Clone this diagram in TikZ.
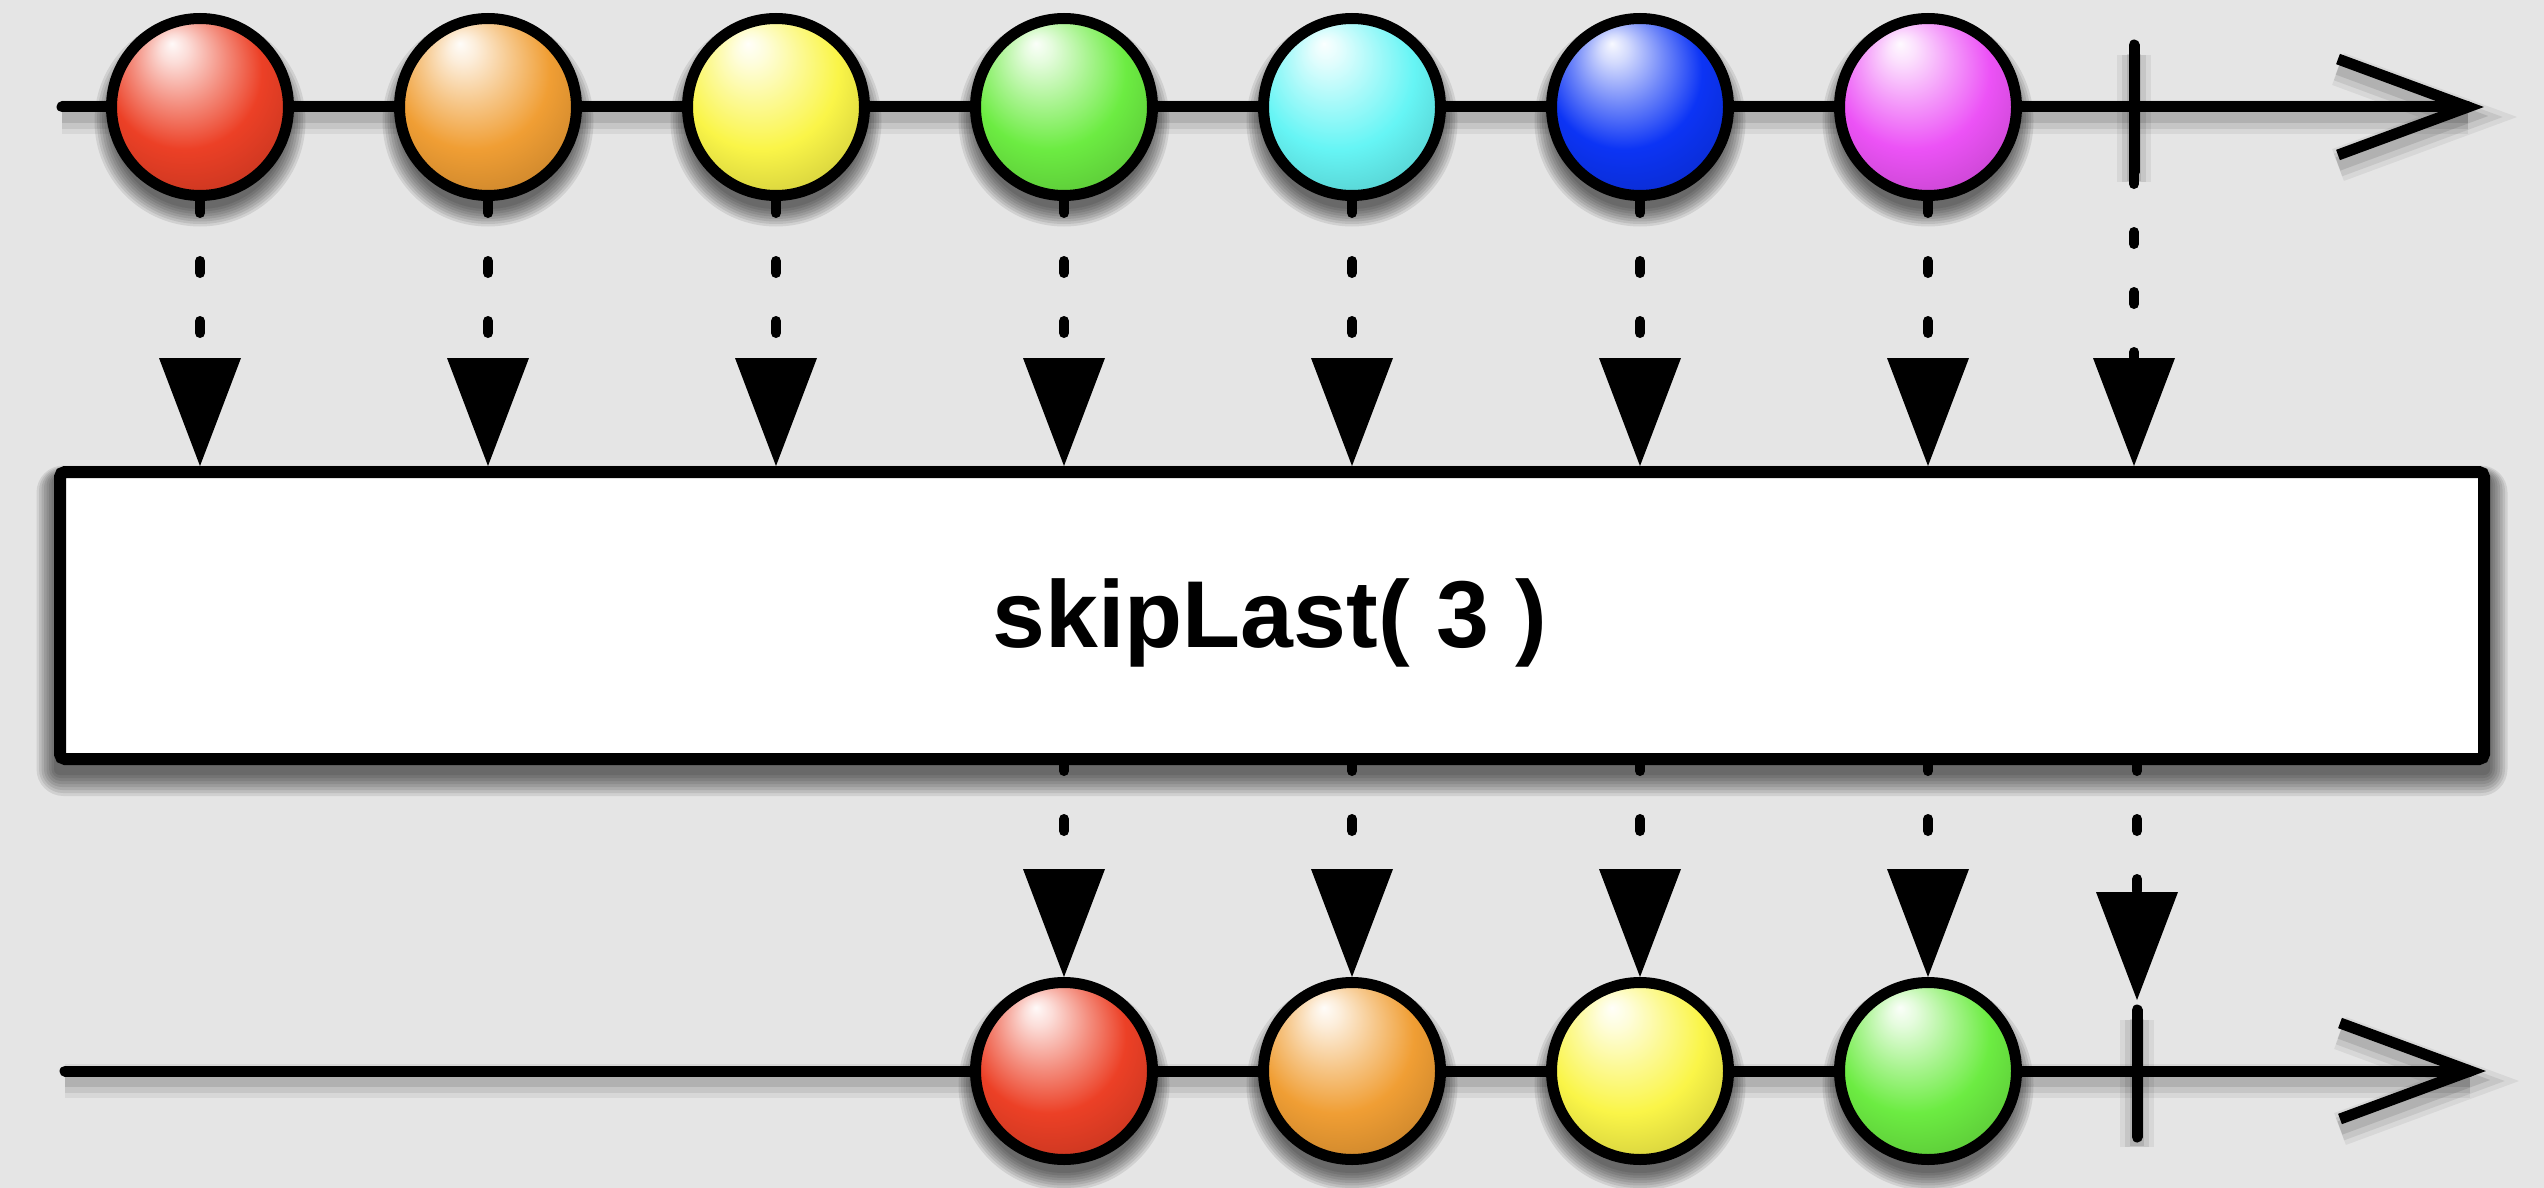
\documentclass[tikz,border=0pt]{standalone}
\usepackage{fontspec}
\setmainfont{Liberation Sans}
\usetikzlibrary{arrows.meta}
\pgfdeclarelayer{bglayer}
\pgfdeclarelayer{shadowlayer}
\pgfsetlayers{bglayer,shadowlayer,main}
\definecolor{bgc}{RGB}{229,229,229}
\definecolor{cred}{RGB}{236,64,38}
\definecolor{corange}{RGB}{240,158,52}
\definecolor{cyellow}{RGB}{250,245,72}
\definecolor{cgreen}{RGB}{108,236,66}
\definecolor{ccyan}{RGB}{102,245,245}
\definecolor{cblue}{RGB}{12,52,245}
\definecolor{cmagenta}{RGB}{236,82,246}
\colorlet{rxball}{red}
\pgfdeclareradialshading[rxball]{rxshade}{\pgfpoint{-8bp}{18bp}}{%
  color(0bp)=(rxball!3!white); color(4bp)=(rxball!18!white);
  color(13bp)=(rxball!60!white); color(22bp)=(rxball);
  color(31bp)=(rxball!88!black); color(43bp)=(rxball!52!black);
  color(50bp)=(rxball!45!black)}
\tikzset{
  mcol/.code={\colorlet{rxball}{#1}},
  mball/.style={circle, draw=black, line width=11pt, minimum size=177pt,
    inner sep=0pt, shade, shading=rxshade, mcol=#1},
  softsh/.style={fill=black, fill opacity=0.09},
  lshad/.style={
    preaction={draw=black, draw opacity=0.06, line width=34pt, transform canvas={yshift=-10pt}},
    preaction={draw=black, draw opacity=0.08, line width=24pt, transform canvas={yshift=-10pt}},
    preaction={draw=black, draw opacity=0.10, line width=14pt, transform canvas={yshift=-9pt}}},
  tline/.style={line width=11pt, line cap=round, lshad},
  barb/.style={line width=11pt, line cap=butt, line join=miter, lshad},
  tickln/.style={line width=11pt, line cap=round, lshad},
  conn/.style={line width=10pt, line cap=round, dash pattern=on 12pt off 48pt,
    -{Triangle[length=108pt, width=82pt, line width=0pt]}},
  boxsty/.style={draw=black, fill=white, line width=12pt, rounded corners=5pt,
    minimum width=2424pt, minimum height=287pt, inner sep=0pt},
  lblsty/.style={font=\bfseries\fontsize{95}{110}\selectfont, anchor=base, inner sep=0pt}
}
\begin{document}
\begin{tikzpicture}[x=1pt, y=-1pt]
\begin{pgfonlayer}{bglayer}
\fill[bgc] (0,0) rectangle (2544,1188);
\end{pgfonlayer}
\useasboundingbox (0,0) rectangle (2544,1188);

% timelines
\coordinate (ts) at (62,107);
\coordinate (te) at (2468,107);
\coordinate (bs) at (65,1071);
\coordinate (be) at (2470,1071);
\draw[tline] (ts) -- (te);
\draw[barb] (te) ++(-130,-48) -- (te) -- ++(-130,48);
\draw[tline] (bs) -- (be);
\draw[barb] (be) ++(-130,-48) -- (be) -- ++(-130,48);

% completion ticks
\coordinate (tk1) at (2134,45);
\coordinate (tk2) at (2134,172);
\draw[tickln] (tk1) -- (tk2);
\coordinate (tk3) at (2137,1010);
\coordinate (tk4) at (2137,1137);
\coordinate (tb) at (2137,1000);
\draw[tickln] (tk3) -- (tk4);

% box
\node[boxsty] (box) at (1272,615.5) {};
\node[lblsty] (lbl) at (1270,647) {skipLast( 3 )};

% top balls
\node[mball=cred]     (b1) at (200,107) {};
\node[mball=corange]  (b2) at (488,107) {};
\node[mball=cyellow]  (b3) at (776,107) {};
\node[mball=cgreen]   (b4) at (1064,107) {};
\node[mball=ccyan]    (b5) at (1352,107) {};
\node[mball=cblue]    (b6) at (1640,107) {};
\node[mball=cmagenta] (b7) at (1928,107) {};

% bottom balls
\node[mball=cred]     (c1) at (1064,1071) {};
\node[mball=corange]  (c2) at (1352,1071) {};
\node[mball=cyellow]  (c3) at (1640,1071) {};
\node[mball=cgreen]   (c4) at (1928,1071) {};

% soft shadows
\begin{pgfonlayer}{shadowlayer}
\foreach \k in {0,...,7} {
  \fill[softsh, rounded corners=6+3*\k]
    ([shift={(-2.5*\k,10+3*\k)}]box.south west) rectangle ([shift={(2.5*\k,10-1.5*\k)}]box.north east);
}
\foreach \n in {b1,b2,b3,b4,b5,b6,b7,c1,c2,c3,c4} {
  \foreach \k in {0,...,7} {
    \fill[softsh] ([yshift=-14pt]\n.center) circle ({88+2.5*\k});
  }
}
\end{pgfonlayer}

% connectors into the box
\foreach \i in {1,...,7} {
  \draw[conn] (b\i.south) -- (b\i.south |- box.north);
}
\draw[conn] (tk2) -- (tk2 |- box.north);

% connectors out of the box
\foreach \i in {1,...,4} {
  \draw[conn, dash phase=6pt] (c\i.north |- box.south) -- (c\i.north);
}
\draw[conn, dash phase=6pt] (tb |- box.south) -- (tb);
\end{tikzpicture}
\end{document}
